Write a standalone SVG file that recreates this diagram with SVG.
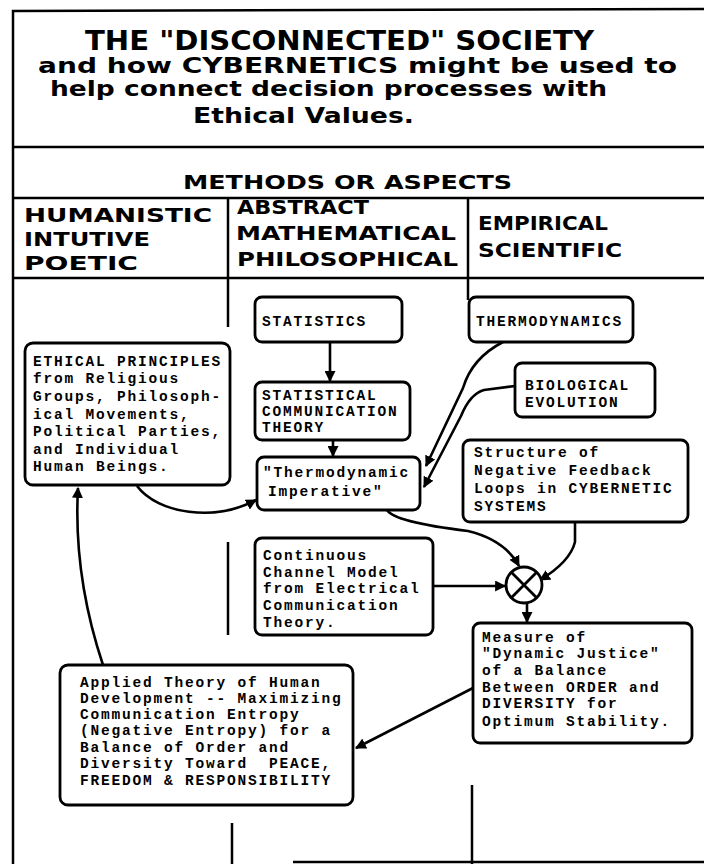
<svg xmlns="http://www.w3.org/2000/svg" width="704" height="864" viewBox="0 0 704 864">
<defs>
<marker id="ah" viewBox="0 0 10 10" refX="9" refY="5" markerWidth="11" markerHeight="11" markerUnits="userSpaceOnUse" orient="auto">
<path d="M0,0 L10,5 L0,10 z" fill="#000"/>
</marker>
<style>
.frame{fill:none;stroke:#000;stroke-width:2.5}
.box{fill:#fff;stroke:#000;stroke-width:2.8}
.hand{font-family:"DejaVu Sans",sans-serif;font-weight:bold;fill:#000}
.tt{font-family:"Liberation Mono","DejaVu Sans Mono",monospace;font-weight:bold;font-size:14.5px;letter-spacing:1.8px;fill:#000}
.con{fill:none;stroke:#000;stroke-width:2.6;marker-end:url(#ah)}
</style>
</defs>
<rect width="704" height="864" fill="#fff"/>
<g id="frame">
<path class="frame" d="M13 864 L13 11 L704 9"/>
<path class="frame" d="M13 147 L704 147"/>
<path class="frame" d="M13 198 L704 198"/>
<path class="frame" d="M13 278 L704 278"/>
<path class="frame" d="M228 198 L228 327"/>
<path class="frame" d="M468 198 L468 300"/>
<path class="frame" d="M228 542 L228 635"/>
<path class="frame" d="M232 823 L232 864"/>
<path class="frame" d="M472 785 L472 864"/>
<path class="frame" d="M293 862 L704 862"/>
</g>
<g id="title">
<text class="hand" x="85" y="50" font-size="26" textLength="509" lengthAdjust="spacingAndGlyphs">THE "DISCONNECTED" SOCIETY</text>
<text class="hand" x="38" y="73" font-size="21" textLength="639" lengthAdjust="spacingAndGlyphs">and how  CYBERNETICS might be used to</text>
<text class="hand" x="50" y="96" font-size="21" textLength="557" lengthAdjust="spacingAndGlyphs">help connect decision processes with</text>
<text class="hand" x="193" y="123" font-size="21" textLength="221" lengthAdjust="spacingAndGlyphs">Ethical Values.</text>
</g>
<g id="headers">
<text class="hand" x="183" y="189" font-size="19" textLength="329" lengthAdjust="spacingAndGlyphs">METHODS OR ASPECTS</text>
<text class="hand" x="24" y="222" font-size="19" textLength="188" lengthAdjust="spacingAndGlyphs">HUMANISTIC</text>
<text class="hand" x="24" y="246" font-size="19" textLength="126" lengthAdjust="spacingAndGlyphs">INTUTIVE</text>
<text class="hand" x="24" y="270" font-size="19" textLength="114" lengthAdjust="spacingAndGlyphs">POETIC</text>
<text class="hand" x="237" y="214" font-size="19" textLength="132" lengthAdjust="spacingAndGlyphs">ABSTRACT</text>
<text class="hand" x="236" y="240" font-size="19" textLength="220" lengthAdjust="spacingAndGlyphs">MATHEMATICAL</text>
<text class="hand" x="237" y="266" font-size="19" textLength="221" lengthAdjust="spacingAndGlyphs">PHILOSOPHICAL</text>
<text class="hand" x="478" y="230" font-size="19" textLength="130" lengthAdjust="spacingAndGlyphs">EMPIRICAL</text>
<text class="hand" x="478" y="257" font-size="19" textLength="144" lengthAdjust="spacingAndGlyphs">SCIENTIFIC</text>
</g>
<g id="connectors">
<path class="con" d="M330 342 L330 381"/>
<path class="con" d="M333 440 L333 456"/>
<path class="con" d="M503 342 Q472 358 463 388 L426 466"/>
<path class="con" d="M515 386 L484 390 Q470 394 461 416 L424 487"/>
<path class="con" d="M137 486 C158 514 215 522 256 500"/>
<path class="con" d="M103 665 C88 620 74 560 78 488"/>
<path class="con" d="M387 510 Q394 522 468 531 Q505 540 519 566"/>
<path class="con" d="M575 522 L575 542 Q570 562 540 580"/>
<path class="con" d="M433 586 L505 586"/>
<path class="con" d="M527 603 L527 622"/>
<path class="con" d="M473 688 L356 748"/>
</g>
<g id="statistics">
<rect class="box" x="255" y="297" width="147" height="45" rx="7"/>
<text class="tt" x="262" y="326">STATISTICS</text>
</g>
<g id="thermodynamics">
<rect class="box" x="469" y="297" width="164" height="45" rx="7"/>
<text class="tt" x="476" y="326">THERMODYNAMICS</text>
</g>
<g id="ethics">
<rect class="box" x="25" y="343" width="205" height="142" rx="8"/>
<text class="tt" x="33" y="366">ETHICAL PRINCIPLES</text>
<text class="tt" x="33" y="383">from Religious</text>
<text class="tt" x="33" y="401">Groups, Philosoph-</text>
<text class="tt" x="33" y="419">ical Movements,</text>
<text class="tt" x="33" y="436">Political Parties,</text>
<text class="tt" x="33" y="454">and Individual</text>
<text class="tt" x="33" y="471">Human Beings.</text>
</g>
<g id="statcomm">
<rect class="box" x="255" y="382" width="155" height="58" rx="7"/>
<text class="tt" x="262" y="400">STATISTICAL</text>
<text class="tt" x="262" y="416">COMMUNICATION</text>
<text class="tt" x="262" y="432">THEORY</text>
</g>
<g id="biological">
<rect class="box" x="515" y="363" width="140" height="54" rx="7"/>
<text class="tt" x="525" y="390">BIOLOGICAL</text>
<text class="tt" x="525" y="407">EVOLUTION</text>
</g>
<g id="imperative">
<rect class="box" x="257" y="457" width="163" height="53" rx="7"/>
<text class="tt" x="263" y="477">"Thermodynamic</text>
<text class="tt" x="268" y="496">Imperative"</text>
</g>
<g id="structure">
<rect class="box" x="463" y="440" width="225" height="82" rx="7"/>
<text class="tt" x="474" y="457">Structure of</text>
<text class="tt" x="474" y="475">Negative Feedback</text>
<text class="tt" x="474" y="493">Loops in CYBERNETIC</text>
<text class="tt" x="474" y="511">SYSTEMS</text>
</g>
<g id="continuous">
<rect class="box" x="255" y="538" width="178" height="97" rx="7"/>
<text class="tt" x="263" y="560">Continuous</text>
<text class="tt" x="263" y="577">Channel Model</text>
<text class="tt" x="263" y="593">from Electrical</text>
<text class="tt" x="263" y="610">Communication</text>
<text class="tt" x="263" y="627">Theory.</text>
</g>
<g id="junction">
<circle cx="524" cy="585" r="18" fill="#fff" stroke="#000" stroke-width="2.8"/>
<path d="M511.3 572.3 L536.7 597.7 M536.7 572.3 L511.3 597.7" stroke="#000" stroke-width="2.8"/>
</g>
<g id="measure">
<rect class="box" x="473" y="623" width="219" height="120" rx="7"/>
<text class="tt" x="482" y="642">Measure of</text>
<text class="tt" x="482" y="658">"Dynamic Justice"</text>
<text class="tt" x="482" y="675">of a Balance</text>
<text class="tt" x="482" y="692">Between ORDER and</text>
<text class="tt" x="482" y="708">DIVERSITY for</text>
<text class="tt" x="482" y="726">Optimum Stability.</text>
</g>
<g id="applied">
<rect class="box" x="60" y="665" width="293" height="140" rx="8"/>
<text class="tt" x="80" y="687">Applied Theory of Human</text>
<text class="tt" x="80" y="703">Development -- Maximizing</text>
<text class="tt" x="80" y="719">Communication Entropy</text>
<text class="tt" x="80" y="735">(Negative Entropy) for a</text>
<text class="tt" x="80" y="752">Balance of Order and</text>
<text class="tt" x="80" y="768" xml:space="preserve">Diversity Toward  PEACE,</text>
<text class="tt" x="80" y="785">FREEDOM &amp; RESPONSIBILITY</text>
</g>
</svg>
